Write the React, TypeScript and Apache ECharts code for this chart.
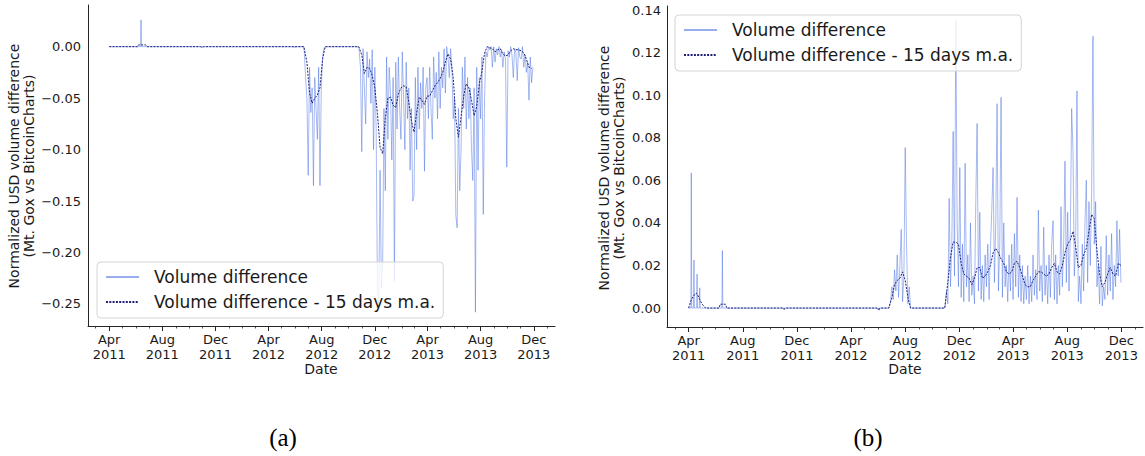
import React, { useEffect, useRef } from "react";
import * as echarts from "echarts";

const DAY = 86400000;
const utc = (s: string) => {
  const [y, m, d] = s.split("-").map(Number);
  return Date.UTC(y, m - 1, d || 1);
};

const seriesNames = ["Volume difference", "Volume difference - 15 days m.a."];
const xTickLabels = ["2011-04", "2011-08", "2011-12", "2012-04", "2012-08", "2012-12", "2013-04", "2013-08", "2013-12"];
const monthNames = ["Jan", "Feb", "Mar", "Apr", "May", "Jun", "Jul", "Aug", "Sep", "Oct", "Nov", "Dec"];
const yTicksA = [-0.25, -0.2, -0.15, -0.1, -0.05, 0];
const yTicksB = [0, 0.02, 0.04, 0.06, 0.08, 0.1, 0.12, 0.14];
const RAW_STEP = 3;
const MA_STEP = 6;

// ---------- (a) ----------
const aEarlyRaw: [string, number][] = [
  ["2011-04-01", 0], ["2011-06-12", 0], ["2011-06-13", 0.026], ["2011-06-14", 0],
  ["2011-10-30", 0], ["2011-10-31", -0.001], ["2011-11-01", 0],
  ["2012-05-30", 0], ["2012-05-31", -0.001], ["2012-06-01", 0], ["2012-06-21", 0],
];
const aEarlyMA: [string, number][] = [
  ["2011-04-01", 0], ["2011-06-05", 0], ["2011-06-07", 0.0017], ["2011-06-24", 0.0017], ["2011-06-27", 0],
  ["2011-10-28", 0], ["2011-10-31", -0.0006], ["2011-11-04", 0], ["2012-06-21", 0],
];
const aSeg1Start = "2012-06-22";
const aSeg1Raw = [-0.005, -0.03, -0.05, -0.125, -0.02, -0.064, -0.04, -0.135, -0.03, -0.06, -0.09, -0.02, -0.135, -0.04, -0.01, -0.002];
const aSeg1MA = [0, -0.015, -0.045, -0.055, -0.05, -0.047, -0.04, -0.012];
const aGap: [string, number][] = [["2012-08-09", 0], ["2012-10-25", 0]];
const aSeg2Start = "2012-10-26";
const aSeg2Raw = [
  -0.004, -0.02, -0.102, -0.002, -0.04, -0.075, -0.005, -0.03, -0.012, -0.055,
  -0.003, -0.1, -0.02, -0.08, -0.24, -0.25, -0.12, -0.235, -0.21, -0.06,
  -0.14, -0.01, -0.09, -0.02, -0.045, -0.11, -0.03, -0.228, -0.015, -0.08,
  -0.01, -0.06, -0.09, -0.005, -0.05, -0.1, -0.015, -0.07, -0.04, -0.12,
  -0.06, -0.15, -0.145, -0.03, -0.1, -0.02, -0.08, -0.035, -0.06, -0.02,
  -0.121, -0.04, -0.03, -0.07, -0.02, -0.06, -0.09, -0.01, -0.05, -0.025,
  -0.07, -0.005, -0.06, -0.02, -0.04, -0.002, -0.045, 0.0, -0.01, -0.03,
  -0.002, -0.02, -0.07, -0.05, -0.164, -0.176, -0.06, -0.14, -0.1, -0.02,
  -0.06, -0.01, -0.08, -0.03, -0.07, -0.04, -0.1, -0.13, -0.04, -0.258,
  -0.02, -0.12, -0.03, -0.07, -0.01, -0.163, -0.05, -0.005, -0.01, 0.0,
  -0.003, 0.0, -0.02, 0.0, -0.015, -0.002, -0.008, 0.0, -0.01, -0.003,
  -0.02, -0.005, -0.012, -0.117, -0.004, -0.01, 0.0, -0.008, -0.03, -0.002,
  -0.006, -0.033, -0.001, -0.01, -0.012, 0.0, -0.02, -0.008, -0.025, -0.015,
  -0.052, -0.01, -0.035, -0.02,
];
const aSeg2MA = [
  0.0, -0.008, -0.026, -0.02, -0.021, -0.028, -0.04, -0.065, -0.098, -0.104,
  -0.07, -0.05, -0.049, -0.057, -0.059, -0.046, -0.04, -0.038, -0.039, -0.054,
  -0.072, -0.083, -0.064, -0.049, -0.052, -0.056, -0.048, -0.048, -0.043, -0.038,
  -0.035, -0.031, -0.025, -0.015, -0.007, -0.012, -0.03, -0.07, -0.088, -0.068,
  -0.048, -0.036, -0.04, -0.052, -0.067, -0.058, -0.036, -0.024, -0.006, 0.0,
  -0.001, -0.002, -0.005, -0.003, -0.002, -0.007, -0.009, -0.008, -0.004, -0.002,
  -0.003, -0.003, -0.004, -0.006, -0.012, -0.02, -0.021,
];

// ---------- (b) ----------
const bEarlyRaw: [string, number][] = [
  ["2011-04-01", 0], ["2011-04-06", 0], ["2011-04-07", 0.0635], ["2011-04-08", 0],
  ["2011-04-12", 0], ["2011-04-13", 0.0225], ["2011-04-14", 0],
  ["2011-04-19", 0], ["2011-04-20", 0.016], ["2011-04-21", 0],
  ["2011-04-25", 0], ["2011-04-26", 0.0095], ["2011-04-27", 0],
  ["2011-06-15", 0], ["2011-06-16", 0.027], ["2011-06-17", 0],
  ["2011-11-01", 0], ["2011-11-02", -0.0008], ["2011-11-03", 0],
  ["2012-05-31", 0], ["2012-06-01", -0.001], ["2012-06-02", 0], ["2012-06-04", -0.001], ["2012-06-05", 0],
  ["2012-06-25", 0],
];
const bEarlyMA: [string, number][] = [
  ["2011-04-01", 0], ["2011-04-07", 0.004], ["2011-04-13", 0.006], ["2011-04-18", 0.007],
  ["2011-04-22", 0.006], ["2011-04-26", 0.004], ["2011-05-01", 0.002], ["2011-05-09", 0],
  ["2011-06-09", 0], ["2011-06-11", 0.0018], ["2011-06-23", 0.0018], ["2011-06-26", 0],
  ["2011-10-30", 0], ["2011-11-02", -0.0005], ["2011-11-05", 0],
  ["2012-05-29", 0], ["2012-06-02", -0.0006], ["2012-06-06", 0], ["2012-06-25", 0],
];
const bSeg1Start = "2012-06-26";
const bSeg1Raw = [0.0, 0.003, 0.01, 0.004, 0.018, 0.008, 0.025, 0.005, 0.02, 0.037, 0.003, 0.015, 0.0754, 0.029, 0.002, 0.01, 0.0];
const bSeg1MA = [0, 0.005, 0.011, 0.013, 0.014, 0.017, 0.013, 0.005, 0];
const bGap: [string, number][] = [["2012-08-15", 0], ["2012-10-29", 0]];
const bSeg2Start = "2012-10-30";
const bSeg2Raw = [
  0.001, 0.008, 0.002, 0.0515, 0.01, 0.03, 0.083, 0.015, 0.135, 0.04,
  0.01, 0.066, 0.005, 0.03, 0.003, 0.068, 0.01, 0.025, 0.003, 0.04,
  0.006, 0.015, 0.002, 0.05, 0.0867, 0.008, 0.045, 0.004, 0.02, 0.003,
  0.025, 0.01, 0.03, 0.004, 0.028, 0.046, 0.066, 0.012, 0.04, 0.096,
  0.008, 0.03, 0.099, 0.005, 0.04, 0.01, 0.02, 0.003, 0.025, 0.008,
  0.03, 0.004, 0.035, 0.01, 0.052, 0.005, 0.025, 0.003, 0.02, 0.002,
  0.015, 0.004, 0.02, 0.002, 0.015, 0.003, 0.025, 0.006, 0.018, 0.004,
  0.046, 0.008, 0.02, 0.003, 0.038, 0.006, 0.02, 0.002, 0.025, 0.005,
  0.03, 0.041, 0.004, 0.025, 0.002, 0.02, 0.006, 0.0476, 0.01, 0.03,
  0.069, 0.012, 0.045, 0.008, 0.035, 0.0937, 0.074, 0.015, 0.03, 0.102,
  0.003, 0.015, 0.002, 0.03, 0.008, 0.04, 0.06, 0.012, 0.05, 0.02,
  0.055, 0.1277, 0.03, 0.05, 0.01, 0.02, 0.002, 0.029, 0.001, 0.01,
  0.004, 0.034, 0.006, 0.025, 0.008, 0.035, 0.004, 0.02, 0.01, 0.041,
  0.015, 0.037, 0.012,
];
const bSeg2MA = [
  0.0, 0.012, 0.024, 0.031, 0.031, 0.03, 0.021, 0.016, 0.015, 0.014,
  0.011, 0.014, 0.019, 0.019, 0.014, 0.015, 0.017, 0.02, 0.026, 0.028,
  0.026, 0.023, 0.021, 0.017, 0.016, 0.017, 0.021, 0.022, 0.019, 0.015,
  0.011, 0.01, 0.01, 0.013, 0.015, 0.017, 0.017, 0.016, 0.015, 0.016,
  0.019, 0.021, 0.017, 0.016, 0.02, 0.026, 0.03, 0.032, 0.036, 0.029,
  0.019, 0.02, 0.025, 0.028, 0.036, 0.044, 0.042, 0.027, 0.016, 0.01,
  0.012, 0.016, 0.019, 0.016, 0.015, 0.021, 0.02,
];

const pairs = (arr: [string, number][]) => arr.map(([d, v]) => [utc(d), v]);
const stepped = (start: string, step: number, vals: number[]) =>
  vals.map((v, i) => [utc(start) + i * step * DAY, v]);

const FONT = "DejaVu Sans";
const TEXT = "#1a1a1a";
const AXIS = "#262626";
const RAW_COLOR = "rgba(65,105,225,0.55)";
const MA_COLOR = "#1f1f78";

export default function App() {
  const ref = useRef<HTMLDivElement>(null);
  useEffect(() => {
    if (!ref.current) return;
    const chart = echarts.init(ref.current, undefined, { renderer: "svg" });

    const aRaw = [...pairs(aEarlyRaw), ...stepped(aSeg1Start, RAW_STEP, aSeg1Raw), ...pairs(aGap), ...stepped(aSeg2Start, RAW_STEP, aSeg2Raw)];
    const aMA = [...pairs(aEarlyMA), ...stepped(aSeg1Start, MA_STEP, aSeg1MA), ...pairs(aGap), ...stepped(aSeg2Start, MA_STEP, aSeg2MA)];
    const bRaw = [...pairs(bEarlyRaw), ...stepped(bSeg1Start, RAW_STEP, bSeg1Raw), ...pairs(bGap), ...stepped(bSeg2Start, RAW_STEP, bSeg2Raw)];
    const bMA = [...pairs(bEarlyMA), ...stepped(bSeg1Start, MA_STEP, bSeg1MA), ...pairs(bGap), ...stepped(bSeg2Start, MA_STEP, bSeg2MA)];

    const xMin = Date.UTC(2011, 1, 11, 6);
    const xMax = Date.UTC(2014, 0, 18, 18);
    const xTickVals = xTickLabels.map((s) => utc(s));
    const monthVals: number[] = [];
    for (let y = 2011; y <= 2014; y++) for (let m = 0; m < 12; m++) {
      const t = Date.UTC(y, m, 1);
      if (t > xMin && t < xMax) monthVals.push(t);
    }
    const fmtX = (v: number) => {
      const d = new Date(v);
      return monthNames[d.getUTCMonth()] + "\n" + d.getUTCFullYear();
    };
    const fmtY = (v: number) => (v < -1e-9 ? "\u2212" : "") + Math.abs(v).toFixed(2);

    const mainX = (grid: number) => ({
      type: "value", gridIndex: grid, min: xMin, max: xMax, scale: true, position: "bottom",
      splitLine: { show: false },
      axisLine: { show: true, onZero: false, lineStyle: { color: AXIS, width: 1 } },
      axisTick: { show: true, customValues: xTickVals, length: 5, lineStyle: { color: AXIS, width: 1 } },
      axisLabel: {
        customValues: xTickVals, formatter: fmtX, margin: 6, fontSize: 13, lineHeight: 15,
        fontFamily: FONT, color: TEXT, hideOverlap: false, showMinLabel: true, showMaxLabel: true,
      },
    });
    const minorX = (grid: number) => ({
      type: "value", gridIndex: grid, min: xMin, max: xMax, scale: true, position: "bottom", offset: 0,
      splitLine: { show: false },
      axisLine: { show: false, onZero: false },
      axisTick: { show: true, customValues: monthVals, length: 2.5, lineStyle: { color: AXIS, width: 0.8 } },
      axisLabel: { show: false },
    });
    const yAx = (grid: number, min: number, max: number, ticks: number[], margin: number) => ({
      type: "value", gridIndex: grid, min, max,
      splitLine: { show: false },
      axisLine: { show: true, onZero: false, lineStyle: { color: AXIS, width: 1 } },
      axisTick: { show: false },
      axisLabel: { customValues: ticks, formatter: fmtY, margin, fontSize: 13, fontFamily: FONT, color: TEXT, showMinLabel: true, showMaxLabel: true },
    });
    const legend = (left: number, top: number) => ({
      orient: "vertical", left, top, data: seriesNames,
      itemWidth: 33, itemHeight: 14, itemGap: 5,
      padding: [5, 8, 6, 8],
      borderColor: "#d4d4d4", borderWidth: 1, borderRadius: 4,
      backgroundColor: "rgba(255,255,255,0.8)",
      selectedMode: false,
      itemStyle: { opacity: 0, borderWidth: 0 },
      textStyle: { fontFamily: FONT, fontSize: 17, color: TEXT, lineHeight: 20, padding: [0, 0, 0, 10] },
    });
    const rawSeries = (xi: number, yi: number, data: any[]) => ({
      type: "line", name: seriesNames[0], xAxisIndex: xi, yAxisIndex: yi, data,
      symbol: "none", showSymbol: false, silent: true,
      lineStyle: { color: RAW_COLOR, width: 0.85 }, itemStyle: { color: RAW_COLOR },
    });
    const maSeries = (xi: number, yi: number, data: any[]) => ({
      type: "line", name: seriesNames[1], xAxisIndex: xi, yAxisIndex: yi, data,
      symbol: "none", showSymbol: false, silent: true,
      lineStyle: { color: MA_COLOR, width: 1, type: [2, 1.3] }, itemStyle: { color: MA_COLOR },
    });
    const yTitle = "Normalized USD volume difference\n(Mt. Gox vs BitcoinCharts)";

    chart.setOption({
      animation: false,
      backgroundColor: "#ffffff",
      grid: [
        { left: 88, top: 5, width: 467, height: 321, containLabel: false },
        { left: 667, top: 6, width: 476, height: 321, containLabel: false },
      ],
      xAxis: [mainX(0), minorX(0), mainX(1), minorX(1)],
      yAxis: [
        yAx(0, -0.2714, 0.0405, yTicksA, 7),
        yAx(1, -0.0089, 0.1419, yTicksB, 6),
      ],
      legend: [legend(97, 262), legend(675, 15)],
      series: [rawSeries(0, 0, aRaw), maSeries(0, 0, aMA), rawSeries(2, 1, bRaw), maSeries(2, 1, bMA)],
      graphic: [
        { type: "text", x: 21, y: 166, rotation: Math.PI / 2, style: { text: yTitle, fill: TEXT, font: `14px "${FONT}"`, lineHeight: 15, textAlign: "center", textVerticalAlign: "middle" } },
        { type: "text", x: 611, y: 168, rotation: Math.PI / 2, style: { text: yTitle, fill: TEXT, font: `14px "${FONT}"`, lineHeight: 15, textAlign: "center", textVerticalAlign: "middle" } },
        { type: "text", x: 321, y: 369, style: { text: "Date", fill: TEXT, font: `14px "${FONT}"`, textAlign: "center", textVerticalAlign: "middle" } },
        { type: "text", x: 905, y: 369, style: { text: "Date", fill: TEXT, font: `14px "${FONT}"`, textAlign: "center", textVerticalAlign: "middle" } },
        { type: "text", x: 283, y: 437, style: { text: "(a)", fill: "#000", font: `25px "Liberation Serif"`, textAlign: "center", textVerticalAlign: "middle" } },
        { type: "text", x: 868, y: 437, style: { text: "(b)", fill: "#000", font: `25px "Liberation Serif"`, textAlign: "center", textVerticalAlign: "middle" } },
      ],
    });
    return () => chart.dispose();
  }, []);
  return (
    <div
      ref={ref}
      style={{ position: "fixed", left: 0, top: 0, width: 1145, height: 456, background: "#fff" }}
    />
  );
}
